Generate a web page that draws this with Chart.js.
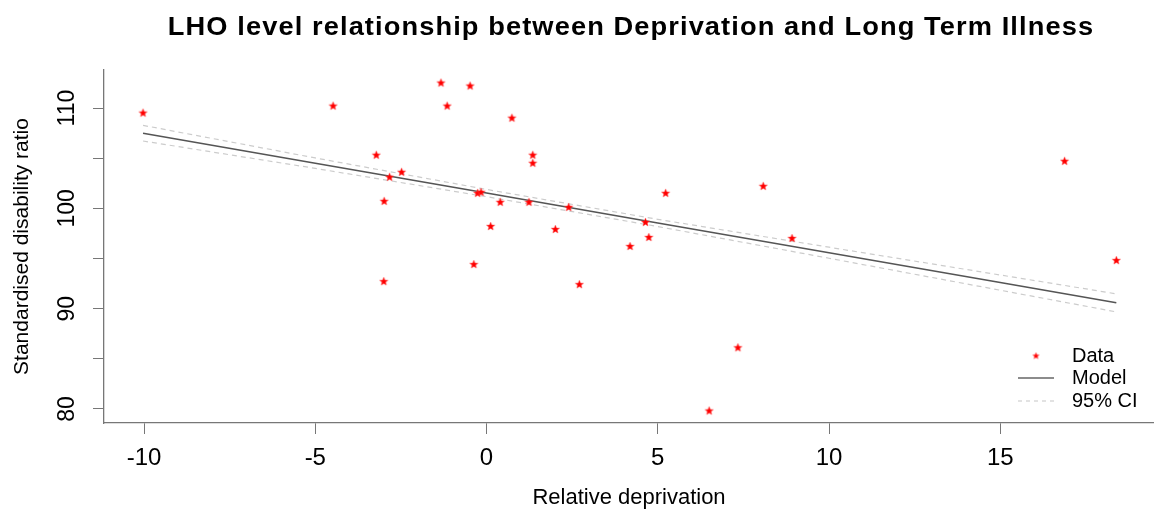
<!DOCTYPE html>
<html>
<head>
<meta charset="utf-8">
<title>LHO level relationship between Deprivation and Long Term Illness</title>
<script src="https://cdn.jsdelivr.net/npm/chart.js@4.4.1/dist/chart.umd.min.js"></script>
<style>
  html, body { margin: 0; padding: 0; background: #fff; }
  #wrap { width: 1154px; height: 517px; }
</style>
</head>
<body>
<div id="wrap"><canvas id="chart" width="1154" height="517"></canvas></div>
<script>
// LHO observations: relative deprivation vs standardised disability ratio
const deprivation = [-10.03, -4.48, -1.33, -1.15, -0.48, 0.74, -3.22, -2.83, -2.48, -2.99, -3.00,
  -0.26, -0.16, 0.12, 0.40, -0.37, 1.35, 1.35, 1.24, 2.40, 2.01, 5.23, 8.08, 4.64, 4.74, 4.19,
  8.92, 2.71, 7.34, 6.50, 16.88, 18.39];
const disability = [109.5, 110.2, 112.5, 110.2, 112.2, 109.0, 105.3, 103.1, 103.6, 100.7, 92.7,
  101.5, 101.6, 98.2, 100.6, 94.4, 105.3, 104.5, 100.6, 100.1, 97.9, 101.5, 102.2, 98.6, 97.1, 96.2,
  97.0, 92.4, 86.1, 79.8, 104.7, 94.8];

// fitted model and its 95% confidence band
const fitX = [-10.03, -5, 0, 5, 10, 15, 18.39];
const fitY = [107.5, 104.51, 101.53, 98.55, 95.58, 92.6, 90.58];
const ciUpper = [108.28, 105.03, 101.89, 98.91, 96.13, 93.36, 91.48];
const ciLower = [106.72, 103.99, 101.17, 98.19, 95.03, 91.84, 89.68];

const xTicks = [-10, -5, 0, 5, 10, 15];
const yTicks = [80, 85, 90, 95, 100, 105, 110];
const yLabels = [80, 90, 100, 110];

const titleText = 'LHO level relationship between Deprivation and Long Term Illness';
const xTitle = 'Relative deprivation';
const yTitle = 'Standardised disability ratio';
const legendItems = ['Data', 'Model', '95% CI'];

const family = '"Liberation Sans", Arial, Helvetica, sans-serif';

function starImage(r, color) {
  const c = document.createElement('canvas');
  const s = Math.ceil(r * 2) + 2;
  c.width = c.height = s;
  const g = c.getContext('2d');
  g.translate(s / 2, s / 2);
  g.beginPath();
  for (let i = 0; i < 10; i++) {
    const rad = i % 2 ? r * 0.45 : r;
    const a = -Math.PI / 2 + i * Math.PI / 5;
    g.lineTo(rad * Math.cos(a), rad * Math.sin(a));
  }
  g.closePath();
  g.fillStyle = color;
  g.fill();
  g.strokeStyle = 'rgba(255,80,80,0.5)';
  g.lineWidth = 0.8;
  g.stroke();
  return c;
}

const star = starImage(4.4, '#ff0000');
const legendStar = starImage(3.4, '#ff0000');

const toPoints = (xs, ys) => xs.map((x, i) => ({ x: x, y: ys[i] }));

// title, rotated y labels, axis titles and the legend box
const chartText = {
  id: 'chartText',
  afterDraw(chart) {
    const { ctx, chartArea: a, scales: { y } } = chart;
    const cx = (a.left + a.right) / 2;
    ctx.save();
    ctx.fillStyle = '#000';
    ctx.textAlign = 'center';
    ctx.textBaseline = 'middle';

    // wide title: slightly stretched glyphs
    ctx.save();
    ctx.font = 'bold 25px ' + family;
    ctx.letterSpacing = '1px';
    ctx.translate(cx + 2, 28);
    ctx.scale(1.09, 1);
    ctx.fillText(titleText, 0, 0);
    ctx.restore();

    ctx.font = '23px ' + family;
    yLabels.forEach(v => {
      ctx.save();
      ctx.translate(68, y.getPixelForValue(v));
      ctx.rotate(-Math.PI / 2);
      ctx.fillText(String(v), 0, 0);
      ctx.restore();
    });

    ctx.font = '22px ' + family;
    ctx.fillText(xTitle, cx, 498);
    ctx.font = '21px ' + family;
    ctx.save();
    ctx.translate(22, (a.top + a.bottom) / 2);
    ctx.rotate(-Math.PI / 2);
    ctx.fillText(yTitle, 0, 0);
    ctx.restore();

    // legend
    const lx = a.right - 118;
    const rows = [a.bottom - 67, a.bottom - 45, a.bottom - 22];
    ctx.drawImage(legendStar, lx - legendStar.width / 2, rows[0] - legendStar.height / 2);
    ctx.strokeStyle = '#666';
    ctx.lineWidth = 1.5;
    ctx.beginPath();
    ctx.moveTo(lx - 18, rows[1]);
    ctx.lineTo(lx + 18, rows[1]);
    ctx.stroke();
    ctx.strokeStyle = '#d0d0d0';
    ctx.lineWidth = 1.2;
    ctx.setLineDash([4, 4]);
    ctx.beginPath();
    ctx.moveTo(lx - 18, rows[2]);
    ctx.lineTo(lx + 18, rows[2]);
    ctx.stroke();
    ctx.setLineDash([]);

    ctx.font = '20px ' + family;
    ctx.textAlign = 'left';
    legendItems.forEach((t, i) => ctx.fillText(t, lx + 36, rows[i]));
    ctx.restore();
  }
};

const ctx = document.getElementById('chart').getContext('2d');
new Chart(ctx, {
  type: 'scatter',
  data: {
    datasets: [
      {
        label: 'Data',
        data: toPoints(deprivation, disability),
        pointStyle: star,
        pointRadius: 4,
        showLine: false
      },
      {
        label: 'Model',
        data: toPoints(fitX, fitY),
        showLine: true,
        borderColor: '#555555',
        borderWidth: 1.5,
        pointRadius: 0
      },
      {
        label: '95% CI',
        data: toPoints(fitX, ciUpper),
        showLine: true,
        borderColor: '#cccccc',
        borderWidth: 1.2,
        borderDash: [5, 4],
        pointRadius: 0
      },
      {
        label: '95% CI lower',
        data: toPoints(fitX, ciLower),
        showLine: true,
        borderColor: '#cccccc',
        borderWidth: 1.2,
        borderDash: [5, 4],
        pointRadius: 0
      }
    ]
  },
  options: {
    responsive: false,
    animation: false,
    layout: { autoPadding: false, padding: { top: 70, left: 0, right: 0, bottom: 0 } },
    plugins: {
      legend: { display: false },
      tooltip: { enabled: false }
    },
    scales: {
      x: {
        type: 'linear',
        min: -11.17,
        max: 19.49,
        afterBuildTicks: s => { s.ticks = xTicks.map(v => ({ value: v })); },
        afterFit: s => { s.height = 94; },
        grid: { drawOnChartArea: false, drawTicks: true, tickLength: 11, color: '#777' },
        border: { color: '#777', width: 1.3 },
        ticks: { font: { size: 24, family: family }, color: '#000', padding: 10, maxRotation: 0, autoSkip: false }
      },
      y: {
        type: 'linear',
        min: 78.6,
        max: 113.8,
        afterBuildTicks: s => { s.ticks = yTicks.map(v => ({ value: v })); },
        afterFit: s => { s.width = 104; },
        grid: { drawOnChartArea: false, drawTicks: true, tickLength: 11, color: '#777' },
        border: { color: '#777', width: 1.3 },
        ticks: { display: false }
      }
    }
  },
  plugins: [chartText]
});
</script>
</body>
</html>
